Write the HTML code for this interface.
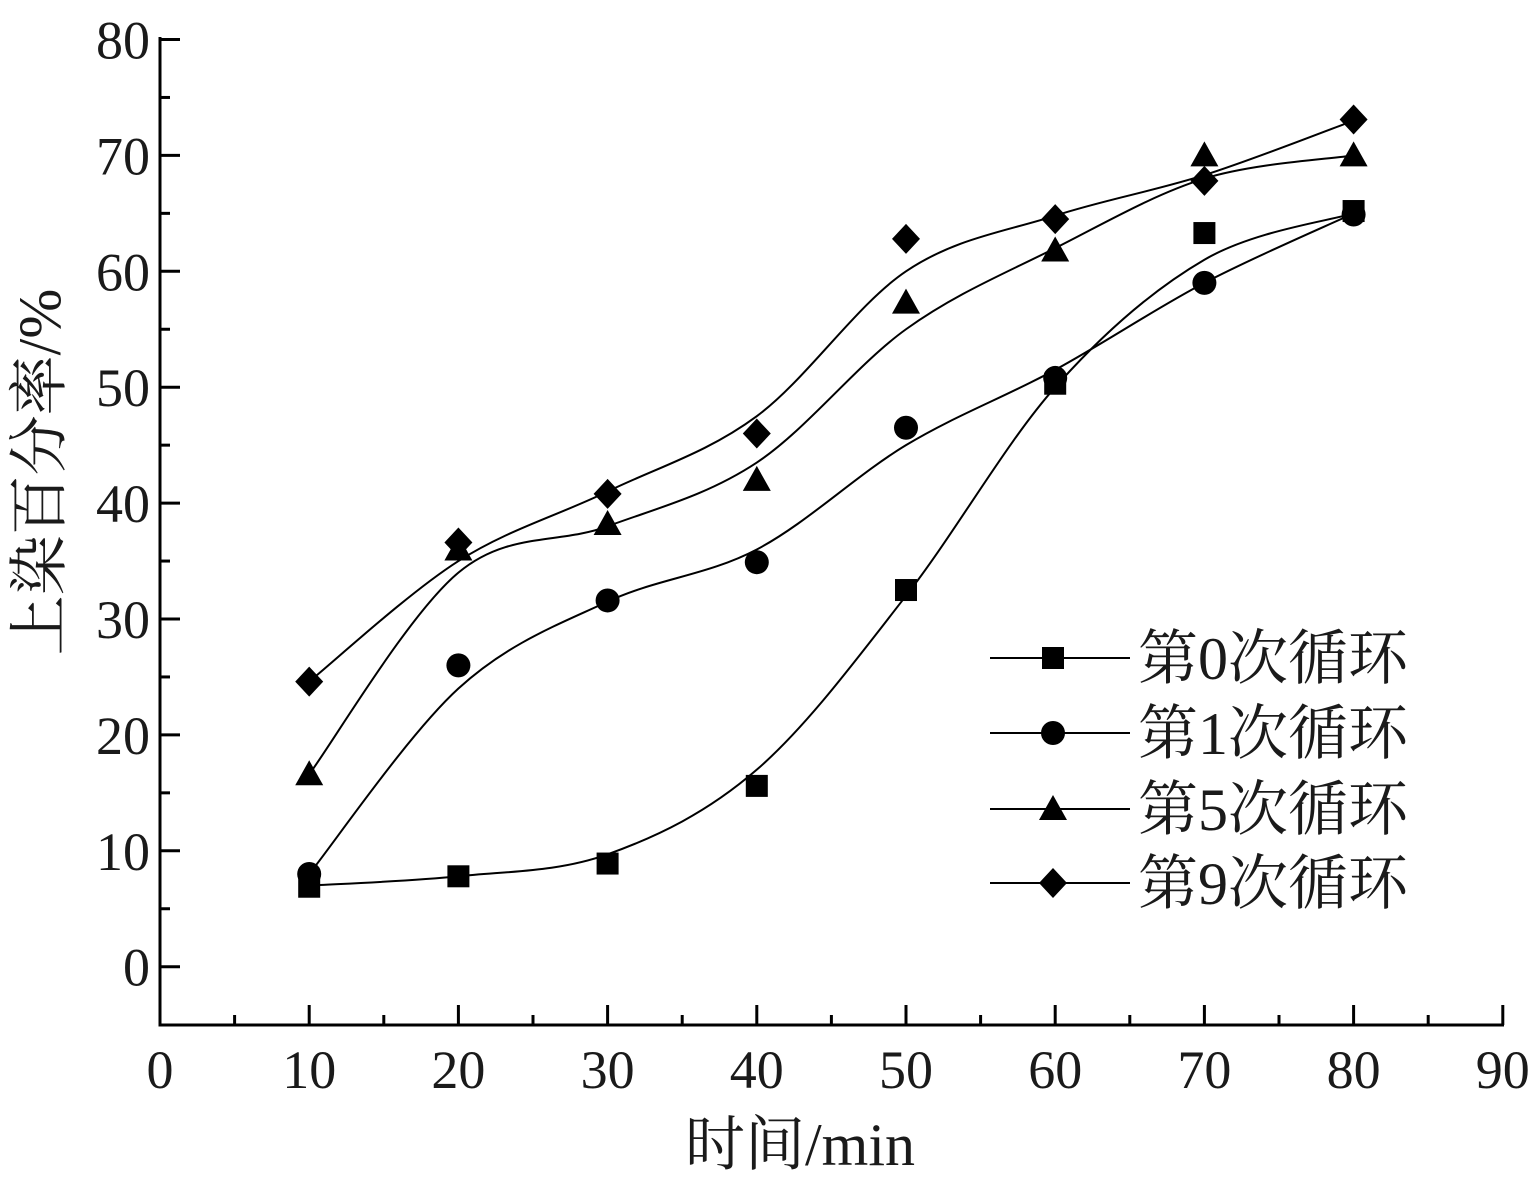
<!DOCTYPE html>
<html><head><meta charset="utf-8"><style>
body{margin:0;background:#fff}
svg text{font-family:"Liberation Serif","Noto Serif CJK SC",serif;fill:#1a1a1a}
</style></head><body>
<svg id="s" width="1535" height="1184" xmlns="http://www.w3.org/2000/svg"></svg>
<script>
const s=document.getElementById('s');
const X=v=>160+v*14.92, Y=v=>966.7-v*11.59;
let h='';
h+=`<line x1="160" y1="37" x2="160" y2="1026.5" stroke="#000" stroke-width="3"/>`;
h+=`<line x1="158.5" y1="1025" x2="1504" y2="1025" stroke="#000" stroke-width="3"/>`;
for(let v=0;v<=90;v+=5){const x=X(v);const L=v%10==0?20:10;if(v>0)h+=`<line x1="${x}" y1="1025" x2="${x}" y2="${1025-L}" stroke="#000" stroke-width="3"/>`;
 if(v%10==0)h+=`<text x="${x}" y="1088" font-size="54" text-anchor="middle">${v}</text>`;}
for(let v=-5;v<=80;v+=5){const y=Y(v);const L=v%10==0?20:10;if(v>-5)h+=`<line x1="160" y1="${y}" x2="${160+L}" y2="${y}" stroke="#000" stroke-width="3"/>`;
 if(v%10==0&&v>=0)h+=`<text x="150" y="${y+19}" font-size="54" text-anchor="end">${v}</text>`;}
h+=`<text x="800" y="1165" font-size="60" text-anchor="middle">时间/min</text>`;
h+=`<text transform="translate(60,472) rotate(-90)" font-size="60" text-anchor="middle">上染百分率/%</text>`;
const xs=[10,20,30,40,50,60,70,80];
const S=[
 {p:[6.9,7.8,8.9,15.6,32.5,50.3,63.3,65.2],c:[7,7.8,9.7,17,32,50,61,65],m:'sq'},
 {p:[8,26,31.6,34.9,46.5,50.8,59,64.9],c:[8,24,31.5,36,45,51.5,59,65],m:'ci'},
 {p:[16.6,36,38.2,42,57.3,61.8,70,70],c:[16.6,34,38,43.5,55,62,68,70],m:'tr'},
 {p:[24.6,36.6,40.8,46,62.8,64.5,67.8,73.1],c:[24.6,35,41,47.5,60,64.8,68.3,73],m:'di'}];
function path(c){const P=xs.map((x,i)=>[X(x),Y(c[i])]);let d=`M${P[0]}`;
 for(let i=0;i<P.length-1;i++){const p0=P[Math.max(0,i-1)],p1=P[i],p2=P[i+1],p3=P[Math.min(P.length-1,i+2)];
 d+=` C${p1[0]+(p2[0]-p0[0])/6},${p1[1]+(p2[1]-p0[1])/6} ${p2[0]-(p3[0]-p1[0])/6},${p2[1]-(p3[1]-p1[1])/6} ${p2[0]},${p2[1]}`;}return d;}
function mk(t,x,y){if(t=='sq')return `<rect x="${x-11}" y="${y-11}" width="22" height="22" fill="#000"/>`;
 if(t=='ci')return `<circle cx="${x}" cy="${y}" r="12" fill="#000"/>`;
 if(t=='tr')return `<polygon points="${x},${y-14} ${x-14},${y+11} ${x+14},${y+11}" fill="#000"/>`;
 return `<polygon points="${x},${y-15} ${x+14},${y} ${x},${y+15} ${x-14},${y}" fill="#000"/>`;}
S.forEach(o=>{h+=`<path d="${path(o.c)}" fill="none" stroke="#000" stroke-width="2"/>`;
 xs.forEach((x,i)=>h+=mk(o.m,X(x),Y(o.p[i])));});
const lab=['第0次循环','第1次循环','第5次循环','第9次循环'],ly=[658,733,809,883];
S.forEach((o,i)=>{h+=`<line x1="990" y1="${ly[i]}" x2="1130" y2="${ly[i]}" stroke="#000" stroke-width="2"/>`+mk(o.m,1053,ly[i])+
 `<text x="1138" y="${ly[i]+21}" font-size="60">${lab[i]}</text>`;});
s.innerHTML=h;
</script>
</body></html>
